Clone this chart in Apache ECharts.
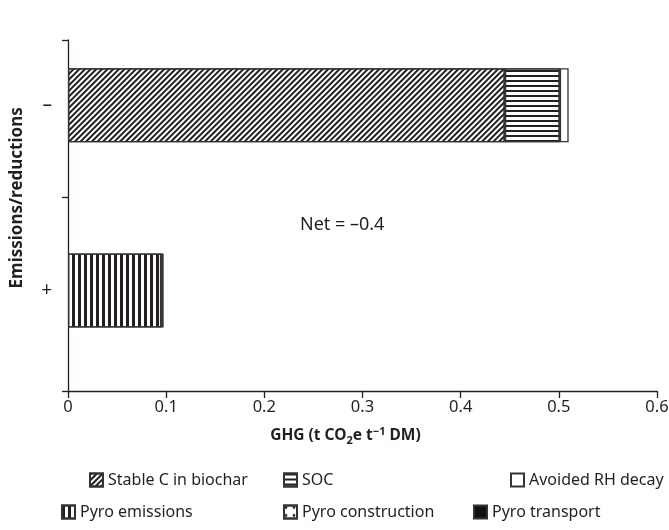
<!DOCTYPE html>
<html>
<head>
<meta charset="utf-8">
<script src="https://cdn.jsdelivr.net/npm/echarts@6/dist/echarts.min.js"></script>
<style>
html,body{margin:0;padding:0;background:#fff;}
#chart{width:669px;height:530px;}
</style>
</head>
<body>
<div id="chart"></div>
<script>
// ---- data ----
const categories = ['+', '\u2013'];
const seriesNames = ['Stable C in biochar', 'SOC', 'Avoided RH decay', 'Pyro emissions', 'Pyro construction', 'Pyro transport'];
const stableC = [null, 0.445];
const soc = [null, 0.056];
const avoidedRH = [null, 0.009];
const pyroEmissions = [0.095, null];
const pyroConstruction = [0.0015, null];
const pyroTransport = [0.0006, null];
const xMin = 0, xMax = 0.6, xStep = 0.1;
const netText = 'Net = \u20130.4';
const xName = ['GHG (t CO', '2', 'e t', '\u22121', ' DM)'];
const yName = 'Emissions/reductions';

// ---- styles ----
const FONT = 'Noto Sans';
const INK = '#231f20';
const EDGE = '#333333';
const decals = {
  'Stable C in biochar': {color: INK, dashArrayX: [1, 0], dashArrayY: [2, 2], rotation: -Math.PI / 4, symbolSize: 1},
  'SOC': {color: INK, dashArrayX: [1, 0], dashArrayY: [2, 3], rotation: 0, symbolSize: 1},
  'Avoided RH decay': null,
  'Pyro emissions': {color: INK, dashArrayX: [3, 3], dashArrayY: [1, 0], rotation: 0, symbolSize: 1},
  'Pyro construction': {color: INK, symbol: 'circle', dashArrayX: [4, 4], dashArrayY: [4, 4], symbolSize: 0.7},
  'Pyro transport': null
};
const fills = {
  'Stable C in biochar': '#ffffff', 'SOC': '#ffffff', 'Avoided RH decay': '#ffffff',
  'Pyro emissions': '#ffffff', 'Pyro construction': '#ffffff', 'Pyro transport': '#111111'
};
const values = [stableC, soc, avoidedRH, pyroEmissions, pyroConstruction, pyroTransport];

const chart = echarts.init(document.getElementById('chart'), null, {renderer: 'canvas'});

const series = seriesNames.map((name, i) => {
  const itemStyle = {color: fills[name], borderColor: EDGE, borderWidth: 1.3};
  if (decals[name]) itemStyle.decal = decals[name];
  return {
    name: name, type: 'bar', stack: 'total', xAxisIndex: 0, yAxisIndex: 0,
    barWidth: 74, itemStyle: itemStyle,
    data: values[i].map(v => (v === null ? '-' : v)),
    emphasis: {disabled: true}, silent: true, animation: false
  };
});

const legendPos = [
  {left: 89, top: 472}, {left: 283, top: 472}, {left: 510, top: 472},
  {left: 61, top: 504}, {left: 283, top: 504}, {left: 473, top: 504}
];
const legends = seriesNames.map((name, i) => ({
  data: [name], left: legendPos[i].left, top: legendPos[i].top, padding: 0,
  icon: 'rect', itemWidth: 13, itemHeight: 13, itemGap: 6, selectedMode: false,
  textStyle: {fontFamily: FONT, fontSize: 16, color: INK}
}));

const option = {
  animation: false,
  backgroundColor: '#ffffff',
  grid: [
    {left: 68, right: 12, top: 12.7, bottom: 147, outerBoundsMode: 'none'},
    {left: 68, right: 12, top: 40, bottom: 139, outerBoundsMode: 'none'}
  ],
  legend: legends,
  xAxis: [
    {type: 'value', gridIndex: 0, min: xMin, max: xMax, interval: xStep, show: false},
    {
      type: 'value', gridIndex: 1, min: xMin, max: xMax, interval: xStep,
      axisLine: {show: true, lineStyle: {color: INK, width: 1.3}},
      axisTick: {show: true, length: 7, lineStyle: {color: INK, width: 1.3}},
      splitLine: {show: false},
      axisLabel: {fontFamily: FONT, fontSize: 16.5, color: INK, margin: 8},
      name: xName.join(''),
      nameLocation: 'middle', nameGap: 35,
      nameTextStyle: {
        padding: [0, 34, 0, 0],
        rich: {
          b: {fontFamily: FONT, fontSize: 15.5, fontWeight: 'bold', color: INK},
          sub: {fontFamily: FONT, fontSize: 11, fontWeight: 'bold', color: INK, padding: [9, 0, 0, 0]},
          sup: {fontFamily: FONT, fontSize: 11, fontWeight: 'bold', color: INK, padding: [0, 0, 9, 0]}
        }
      }
    }
  ],
  yAxis: [
    {
      type: 'category', gridIndex: 0, data: categories,
      axisLine: {show: false}, axisTick: {show: false},
      axisLabel: {fontFamily: FONT, fontSize: 19, color: INK, margin: 16},
      name: yName, nameLocation: 'middle', nameGap: 42,
      nameTextStyle: {fontFamily: FONT, fontSize: 17, fontWeight: 'bold', color: INK}
    },
    {
      type: 'value', gridIndex: 1, min: 0, max: 1,
      axisLine: {show: true, lineStyle: {color: INK, width: 1.3}},
      axisTick: {show: true, length: 6, customValues: [0, 0.5527, 1], lineStyle: {color: INK, width: 1.3}},
      axisLabel: {show: false},
      splitLine: {show: false}
    }
  ],
  series: series,
  graphic: [
    {type: 'text', left: 300, top: 216, silent: true,
     style: {text: netText, fontFamily: FONT, fontSize: 18, fill: INK}}
  ]
};

// rich-text axis name with subscript / superscript
option.xAxis[1].name = '{b|' + xName[0] + '}{sub|' + xName[1] + '}{b|' + xName[2] + '}{sup|' + xName[3] + '}{b|' + xName[4] + '}';

chart.setOption(option);
</script>
</body>
</html>
